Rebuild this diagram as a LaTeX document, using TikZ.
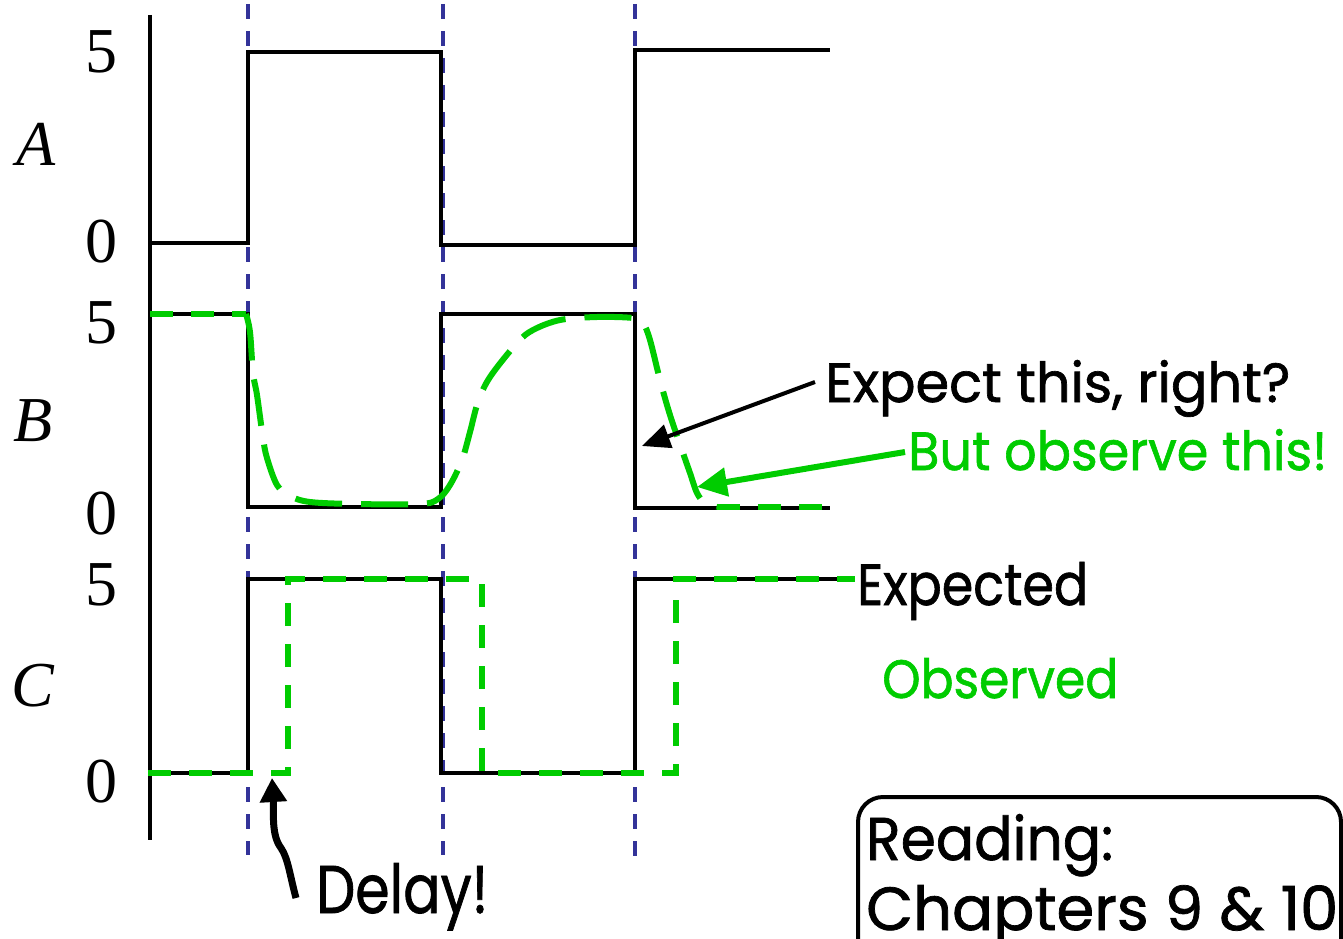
\documentclass[tikz,border=0pt]{standalone}
\usepackage{fontspec}
\setmainfont{Liberation Serif}
\newfontfamily\hand[FakeBold=1.2]{Poppins}
\usetikzlibrary{arrows.meta}
\definecolor{guideblue}{RGB}{51,51,153}
\definecolor{obsgreen}{RGB}{0,204,0}
\newcommand{\fitt}[3]{\resizebox{#1pt}{#2pt}{\hand #3}}
\begin{document}
\begin{tikzpicture}[x=1pt,y=-1pt,
  sig/.style={draw=black, line width=4pt, line join=miter},
  guide/.style={draw=guideblue, line width=3.2pt, dash pattern=on 15pt off 12pt},
  obs/.style={draw=obsgreen, line width=6pt, dash pattern=on 23pt off 18pt},
  obslong/.style={draw=obsgreen, line width=6pt, dash pattern=on 47pt off 19pt},
  lvl/.style={font=\fontsize{64}{64}\selectfont, anchor=base, inner sep=0pt},
  sname/.style={font=\fontsize{64}{64}\selectfont\itshape, anchor=base, inner sep=0pt},
  note/.style={anchor=base west, inner sep=0pt},
  pointer/.style={draw=black, line width=4pt, -{Triangle[length=28pt,width=24pt]}},
]
\useasboundingbox (0,0) rectangle (1343,939);
\clip (0,0) rectangle (1343,939);

% guide lines
\draw[guide] (248,4) -- (248,855);
\draw[guide] (443,4) -- (443,855);
\draw[guide] (635,4) -- (635,857);

% axis
\draw[sig] (150,15) -- (150,840);

% level labels
\node[lvl] (a5) at (101,73) {5};
\node[lvl] (a0) at (101,262) {0};
\node[sname] (aname) at (36,165) {A};
\node[lvl] (b5) at (101,343) {5};
\node[lvl] (b0) at (101,534) {0};
\node[sname] (bname) at (33,441) {B};
\node[lvl] (c5) at (101,605) {5};
\node[lvl] (c0) at (101,802) {0};
\node[sname] (cname) at (33,706) {C};

% expected signals
\draw[sig] (150,243) -- (248,243) -- (248,52) -- (441,52) -- (441,245) -- (635,245) -- (635,50) -- (830,50);
\draw[sig] (150,314) -- (248,314) -- (248,507) -- (441,507) -- (441,314) -- (635,314) -- (635,508) -- (830,508);
\draw[sig] (150,773) -- (248,773) -- (248,579) -- (441,579) -- (441,773) -- (635,773) -- (635,579) -- (850,579);

% observed B
\draw[obs] (150,314) -- (246,314);
\draw[obslong] plot[smooth, tension=0.55] coordinates {
 (246,314) (250,332) (253,373) (257,395) (263,438) (267,458) (277,485) (290,496)
 (310,502) (355,504) (420,504) (438,499) (450,485) (462,460) (470,432) (478,402)
 (490,377) (517,343) (533,330) (560,320) (597,317) (633,318) (643,323) (650,340)
 (660,380) (670,415) (683,453) (690,473) (697,493) (705,503) (717,507)};
\draw[obs] (717,507) -- (828,507);

% observed C
\draw[obs] (148,773) -- (288,773) -- (288,579) -- (482,579) -- (482,773) -- (676,773) -- (676,579) -- (855,579);

% notes
\node[note] (expect) at (825,402) {\fitt{465}{42}{Expect this, right?}};
\node[note, text=obsgreen] (observe) at (908,470) {\fitt{419}{41}{But observe this!}};
\node[note] (expected) at (857,605) {\fitt{231}{43}{Expected}};
\node[note, text=obsgreen] (observed) at (882,698) {\fitt{236}{40}{Observed}};
\node[note] (delay) at (316,913) {\fitt{172}{50}{Delay!}};

\coordinate (expS) at (815,382);
\coordinate (expT) at (642,446);
\draw[pointer] (expS) -- (expT);
\coordinate (obsS) at (905,452);
\coordinate (obsT) at (697,487);
\draw[draw=obsgreen, line width=6pt, -{Triangle[length=30pt,width=28pt]}] (obsS) -- (obsT);
\coordinate (delS) at (296,898);
\coordinate (delT) at (272,778);
\draw[line width=7pt, -{Triangle[length=24pt,width=26pt]}] (delS) .. controls (290,876) and (288,858) .. (281,848) .. controls (271,835) and (274,812) .. (delT);

% reading box
\draw[line width=4pt, rounded corners=25pt] (858,797) rectangle (1341,1000);
\node[note] (reading) at (866,860) {\fitt{247}{46}{Reading:}};
\node[note] (chapters) at (866,930) {\fitt{472}{45}{Chapters 9 \& 10}};
\end{tikzpicture}
\end{document}
